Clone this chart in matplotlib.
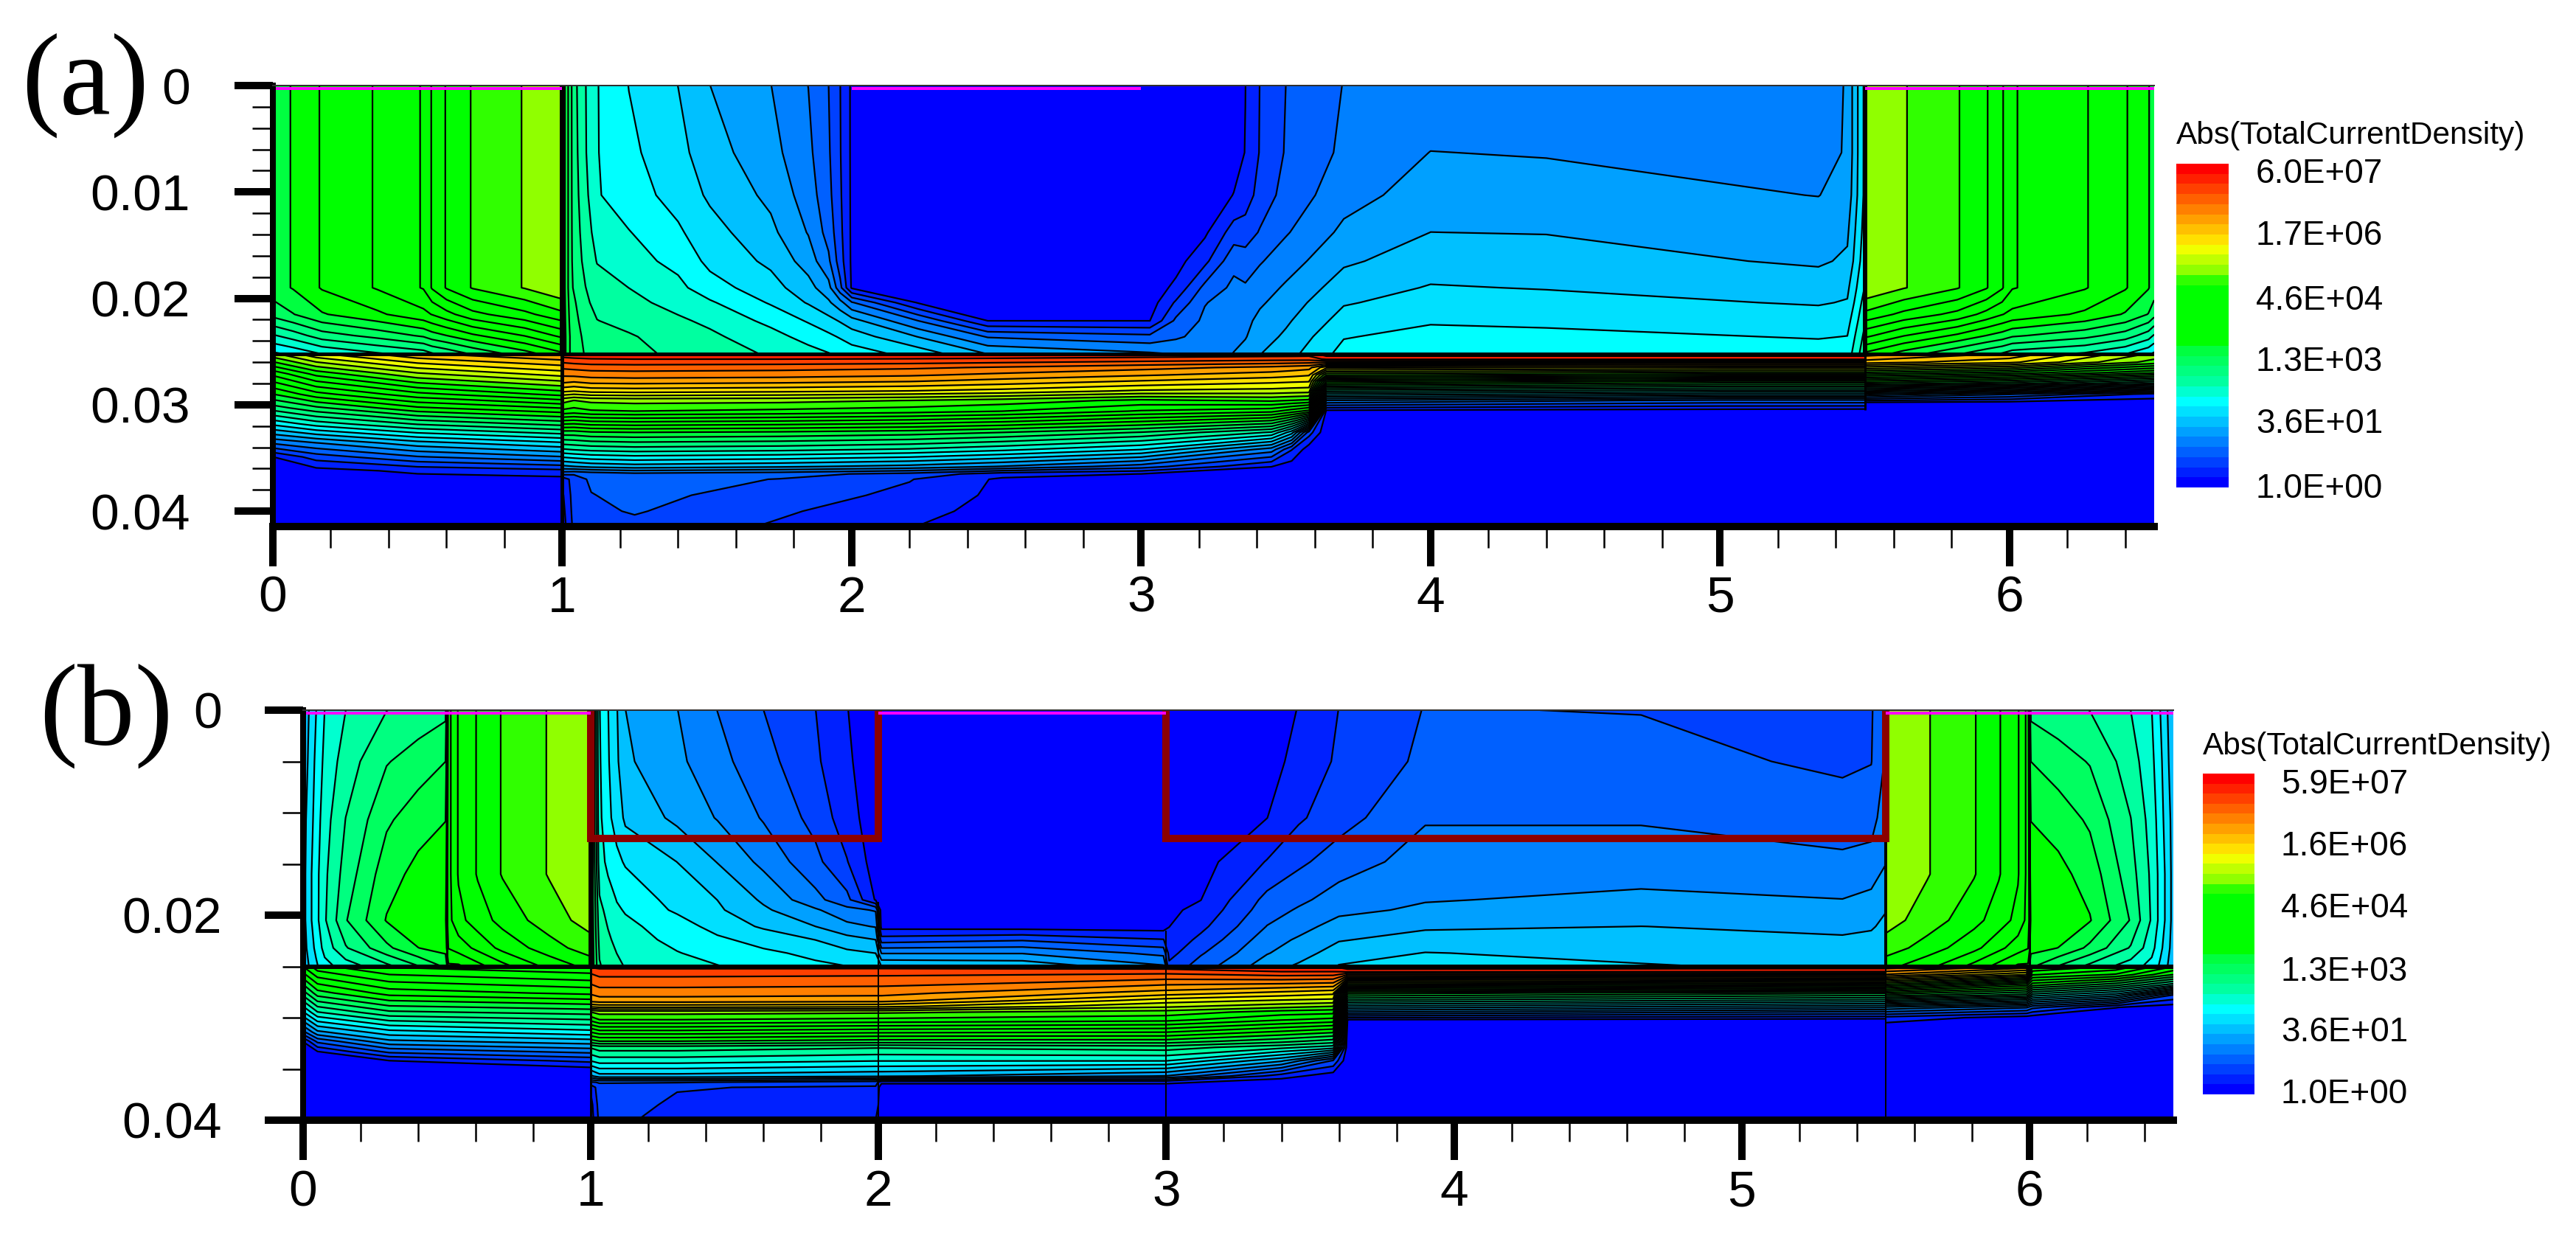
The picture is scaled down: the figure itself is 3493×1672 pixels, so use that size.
import numpy as np
import matplotlib
matplotlib.use("Agg")
import matplotlib.pyplot as plt
from matplotlib.colors import ListedColormap, BoundaryNorm

W, H = 3493, 1672
plt.rcParams["font.family"] = ["Liberation Sans", "DejaVu Sans"]

# log10(|J|) bands, bottom to top of the legend
BAND_COLORS = ["#0000ff", "#0020ff", "#0040ff", "#0060ff", "#0080ff", "#00a0ff", "#00c0ff", "#00e0ff",
               "#00ffff", "#00ffd0", "#00ffa0", "#00ff80", "#00ff60", "#00ff40", "#00ff00", "#00ff00",
               "#00ff00", "#00ff00", "#00ff00", "#00ff00", "#30ff00", "#90ff00", "#c0ff00", "#f0ff00",
               "#ffe000", "#ffc000", "#ffa000", "#ff8000", "#ff6000", "#ff4000", "#ff2000", "#ff0000"]
LEVELS = np.linspace(0, 7.78, len(BAND_COLORS) + 1)

LEGEND_TITLE = "Abs(TotalCurrentDensity)"
A_LEGEND = ["6.0E+07", "1.7E+06", "4.6E+04", "1.3E+03", "3.6E+01", "1.0E+00"]
B_LEGEND = ["5.9E+07", "1.6E+06", "4.6E+04", "1.3E+03", "3.6E+01", "1.0E+00"]
X_TICKS = [0, 1, 2, 3, 4, 5, 6]
A_Y_TICKS = [0, 0.01, 0.02, 0.03, 0.04]
A_Y_LABELS = ["0", "0.01", "0.02", "0.03", "0.04"]
B_Y_TICKS = [0, 0.02, 0.04]
B_Y_LABELS = ["0", "0.02", "0.04"]

# panel (a), tables hold one list per x node
A_TL_X = [0, 0.07, 0.17, 0.36, 0.52, 0.55, 0.60, 0.69, 0.87, 1.0]
A_TL_Y = [0, 0.019, 0.0215, 0.0235, 0.0252]
A_TL_VAL = [[3.30, 3.30, 3.00, 2.40, 1.90],
            [3.42, 3.42, 3.15, 2.55, 2.00],
            [3.67, 3.67, 3.38, 2.80, 2.20],
            [3.91, 3.91, 3.60, 3.00, 2.40],
            [4.15, 4.15, 3.82, 3.20, 2.55],
            [4.40, 4.40, 3.90, 3.30, 2.65],
            [4.64, 4.64, 4.05, 3.40, 2.75],
            [4.88, 4.88, 4.30, 3.60, 2.95],
            [5.12, 5.12, 4.55, 3.90, 3.30],
            [5.33, 5.33, 4.80, 4.20, 3.60]]
A_TR_X = [5.5, 5.635, 5.82, 5.92, 5.975, 6.01, 6.26, 6.40, 6.48, 6.5]
A_TR_VAL = A_TL_VAL[::-1]

A_TM_X = [1.0, 1.03, 1.05, 1.08, 1.12, 1.23, 1.40, 1.51, 1.72, 1.85, 1.92, 1.96, 2.0, 2.23, 2.47, 3.03,
          3.12, 3.22, 3.32, 3.36, 3.41, 3.50, 3.70, 4.0, 4.4, 5.34, 5.44, 5.5]
A_TM_Y = [0, 0.0063, 0.0103, 0.0138, 0.0165, 0.019, 0.0204, 0.0221, 0.0236, 0.0252]
A_TM_VAL = [[3.60, 3.60, 3.60, 3.60, 3.60, 3.60, 3.60, 3.60, 3.60, 3.60],
            [2.95, 2.95, 2.95, 2.95, 2.95, 2.95, 3.00, 3.05, 3.10, 3.10],
            [2.68, 2.70, 2.72, 2.75, 2.78, 2.85, 2.90, 2.95, 3.00, 3.00],
            [2.44, 2.45, 2.50, 2.55, 2.60, 2.68, 2.72, 2.80, 2.85, 2.90],
            [2.20, 2.20, 2.21, 2.33, 2.42, 2.53, 2.60, 2.68, 2.75, 2.80],
            [1.94, 2.00, 2.05, 2.20, 2.28, 2.43, 2.50, 2.60, 2.70, 2.75],
            [1.70, 1.78, 1.86, 1.98, 2.12, 2.25, 2.35, 2.47, 2.56, 2.62],
            [1.46, 1.56, 1.66, 1.80, 1.88, 2.05, 2.22, 2.38, 2.48, 2.56],
            [1.22, 1.30, 1.40, 1.52, 1.65, 1.80, 1.92, 2.12, 2.28, 2.40],
            [0.97, 1.03, 1.10, 1.20, 1.35, 1.55, 1.68, 1.92, 2.10, 2.28],
            [0.73, 0.76, 0.80, 0.88, 1.02, 1.30, 1.50, 1.78, 2.00, 2.20],
            [0.49, 0.50, 0.52, 0.55, 0.60, 0.80, 1.30, 1.68, 1.92, 2.14],
            [0.20, 0.20, 0.20, 0.20, 0.20, 0.21, 1.00, 1.55, 1.84, 2.06],
            [0.10, 0.10, 0.10, 0.10, 0.10, 0.10, 0.22, 0.97, 1.45, 1.85],
            [0.10, 0.10, 0.10, 0.10, 0.10, 0.10, 0.12, 0.24, 0.95, 1.45],
            [0.10, 0.10, 0.10, 0.10, 0.10, 0.10, 0.12, 0.24, 0.80, 1.25],
            [0.08, 0.08, 0.08, 0.10, 0.15, 0.30, 0.52, 0.78, 0.93, 1.20],
            [0.08, 0.08, 0.10, 0.20, 0.42, 0.80, 0.96, 1.02, 1.07, 1.13],
            [0.10, 0.15, 0.25, 0.60, 0.90, 1.03, 1.08, 1.13, 1.18, 1.22],
            [0.24, 0.25, 0.36, 0.60, 0.85, 1.00, 1.08, 1.15, 1.20, 1.30],
            [0.49, 0.50, 0.58, 0.75, 0.95, 1.10, 1.18, 1.28, 1.35, 1.45],
            [0.73, 0.75, 0.82, 0.95, 1.10, 1.25, 1.33, 1.42, 1.50, 1.60],
            [0.98, 1.02, 1.12, 1.27, 1.42, 1.58, 1.68, 1.80, 1.93, 2.03],
            [1.03, 1.22, 1.33, 1.46, 1.58, 1.72, 1.80, 1.92, 2.02, 2.10],
            [1.03, 1.20, 1.32, 1.45, 1.57, 1.69, 1.78, 1.90, 2.00, 2.08],
            [1.00, 1.08, 1.21, 1.36, 1.42, 1.60, 1.68, 1.82, 1.93, 2.04],
            [1.25, 1.25, 1.30, 1.42, 1.50, 1.65, 1.72, 1.85, 1.95, 2.05],
            [2.00, 2.00, 2.00, 2.05, 2.10, 2.20, 2.30, 2.40, 2.50, 2.60]]

A_BL_X = [0, 0.15, 0.5, 1.0]
A_BL_Y = [0.0252, 0.0271, 0.029, 0.0303, 0.0318, 0.0336, 0.0349, 0.0362, 0.0372, 0.0415]
A_BL_VAL = [[5.30, 4.20, 3.40, 2.80, 2.00, 1.00, 0.24, 0.10, 0.05, 0.05],
            [5.80, 4.70, 3.80, 3.10, 2.30, 1.20, 0.60, 0.15, 0.08, 0.05],
            [6.30, 5.30, 4.30, 3.60, 2.70, 1.60, 0.95, 0.30, 0.10, 0.05],
            [6.60, 5.70, 4.70, 3.90, 3.00, 1.90, 1.20, 0.42, 0.10, 0.05]]

A_BM_X = [1.0, 1.04, 1.10, 1.25, 1.75, 2.2, 2.52, 3.0, 3.45, 3.52, 3.58, 3.64, 5.0, 5.5]
A_BM_Y = [0.0252, 0.0257, 0.0265, 0.0272, 0.0278, 0.0287, 0.0296, 0.0306, 0.0326, 0.0342, 0.0358, 0.0365,
          0.0370, 0.0385, 0.0400, 0.0415]
A_BM_VAL = [[7.50, 7.20, 6.85, 6.60, 6.40, 5.90, 5.20, 4.80, 3.30, 2.40, 1.40, 0.80, 0.30, 0.20, 0.15, 0.10],
            [7.50, 7.25, 6.88, 6.62, 6.35, 5.85, 5.10, 4.75, 3.30, 2.45, 1.45, 0.75, 0.62, 0.60, 0.58, 0.55],
            [7.58, 7.28, 6.92, 6.66, 6.42, 5.93, 5.17, 4.83, 3.37, 2.50, 1.52, 0.82, 0.77, 0.72, 0.68, 0.62],
            [7.60, 7.30, 6.93, 6.68, 6.44, 5.95, 5.20, 4.86, 3.40, 2.55, 1.58, 0.90, 0.84, 0.80, 0.75, 0.66],
            [7.60, 7.30, 6.90, 6.66, 6.40, 5.90, 5.18, 4.80, 3.36, 2.50, 1.50, 0.82, 0.72, 0.62, 0.52, 0.45],
            [7.58, 7.28, 6.85, 6.60, 6.33, 5.83, 5.10, 4.72, 3.28, 2.40, 1.38, 0.65, 0.50, 0.42, 0.33, 0.25],
            [7.55, 7.25, 6.78, 6.50, 6.22, 5.75, 5.00, 4.62, 3.16, 2.25, 1.20, 0.35, 0.20, 0.18, 0.15, 0.12],
            [7.50, 7.20, 6.65, 6.35, 6.05, 5.55, 4.80, 4.35, 2.90, 1.95, 0.85, 0.24, 0.10, 0.08, 0.05, 0.05],
            [7.45, 7.15, 6.50, 6.20, 5.90, 5.50, 4.90, 4.20, 2.40, 1.10, 0.25, 0.08, 0.05, 0.05, 0.05, 0.05],
            [7.44, 7.15, 6.45, 6.15, 5.87, 5.47, 4.85, 4.00, 1.80, 0.50, 0.12, 0.05, 0.05, 0.05, 0.05, 0.05],
            [7.42, 7.15, 6.40, 6.10, 5.85, 5.45, 4.80, 3.80, 0.60, 0.10, 0.05, 0.05, 0.05, 0.05, 0.05, 0.05],
            [7.70, 7.35, 5.90, 4.90, 3.90, 2.50, 1.20, 0.15, 0.05, 0.05, 0.05, 0.05, 0.05, 0.05, 0.05, 0.05],
            [7.70, 7.35, 5.80, 4.70, 3.60, 2.30, 0.90, 0.10, 0.05, 0.05, 0.05, 0.05, 0.05, 0.05, 0.05, 0.05],
            [7.70, 7.35, 5.80, 4.70, 3.60, 2.30, 0.90, 0.08, 0.05, 0.05, 0.05, 0.05, 0.05, 0.05, 0.05, 0.05]]

A_BR_X = [5.5, 6.0, 6.5]
A_BR_Y = [0.0252, 0.026, 0.027, 0.028, 0.029, 0.0298, 0.031, 0.0415]
A_BR_VAL = [[6.70, 6.20, 4.80, 3.30, 1.40, 0.20, 0.05, 0.05],
            [6.30, 5.90, 4.50, 3.00, 1.00, 0.15, 0.05, 0.05],
            [5.30, 5.00, 3.90, 2.40, 0.40, 0.10, 0.05, 0.05]]

# panel (b)
B_TL_X = [0, 0.02, 0.045, 0.075, 0.148, 0.29, 0.40, 0.495, 0.505, 0.54, 0.607, 0.693, 0.855, 1.0]
B_TL_Y = [0, 0.005, 0.0107, 0.016, 0.0205, 0.0232, 0.025]
B_TL_VAL = [[1.50, 1.50, 1.60, 1.60, 1.60, 1.55, 1.50],
            [1.70, 1.75, 1.80, 1.85, 1.85, 1.80, 1.70],
            [1.94, 2.00, 2.05, 2.10, 2.10, 2.00, 1.90],
            [2.19, 2.25, 2.33, 2.38, 2.40, 2.28, 2.10],
            [2.43, 2.55, 2.68, 2.78, 2.90, 2.65, 2.30],
            [2.67, 2.90, 3.12, 3.30, 3.42, 3.10, 2.60],
            [2.77, 3.03, 3.30, 3.48, 3.60, 3.40, 2.90],
            [2.85, 3.16, 3.40, 3.52, 3.60, 3.50, 3.20],
            [4.05, 4.05, 4.05, 4.05, 4.05, 3.90, 3.60],
            [4.40, 4.40, 4.40, 4.40, 4.30, 4.00, 3.60],
            [4.64, 4.64, 4.64, 4.64, 4.50, 4.20, 3.80],
            [4.88, 4.88, 4.88, 4.88, 4.70, 4.45, 4.05],
            [5.12, 5.12, 5.12, 5.12, 5.00, 4.75, 4.45],
            [5.33, 5.33, 5.33, 5.33, 5.20, 5.00, 4.70]]
B_TR_X = [5.5, 5.645, 5.807, 5.893, 5.96, 5.995, 6.005, 6.10, 6.21, 6.352, 6.425, 6.455, 6.48, 6.5]
B_TR_VAL = B_TL_VAL[::-1]

B_TM_X = [1.0, 1.03, 1.06, 1.09, 1.12, 1.30, 1.44, 1.60, 1.78, 1.89, 1.99, 2.01, 2.5, 2.99, 3.01, 3.12,
          3.35, 3.46, 3.6, 3.9, 4.65, 5.35, 5.45, 5.5]
B_TM_Y = [0, 0.005, 0.0105, 0.0148, 0.0185, 0.0195, 0.0211, 0.0224, 0.0237, 0.025]
B_TM_VAL = [[3.40, 3.40, 3.40, 3.40, 3.40, 3.40, 3.40, 3.40, 3.40, 3.40],
            [2.20, 2.22, 2.25, 2.30, 2.45, 2.50, 2.55, 2.60, 2.65, 2.70],
            [1.95, 1.97, 2.00, 2.12, 2.30, 2.35, 2.42, 2.47, 2.52, 2.58],
            [1.72, 1.75, 1.85, 2.00, 2.18, 2.22, 2.30, 2.37, 2.43, 2.48],
            [1.46, 1.50, 1.65, 1.92, 2.10, 2.17, 2.24, 2.30, 2.37, 2.42],
            [1.22, 1.27, 1.40, 1.70, 1.86, 1.90, 2.08, 2.12, 2.20, 2.30],
            [0.97, 1.05, 1.20, 1.45, 1.70, 1.74, 1.84, 2.00, 2.10, 2.20],
            [0.73, 0.82, 0.95, 1.15, 1.42, 1.50, 1.67, 1.84, 2.00, 2.10],
            [0.49, 0.53, 0.65, 0.80, 1.05, 1.25, 1.46, 1.70, 1.88, 2.00],
            [0.25, 0.28, 0.35, 0.50, 0.80, 1.05, 1.28, 1.55, 1.76, 1.95],
            [0.10, 0.10, 0.10, 0.12, 0.22, 0.95, 1.20, 1.46, 1.70, 1.94],
            [0.10, 0.10, 0.10, 0.10, 0.10, 0.10, 0.15, 0.60, 1.20, 1.70],
            [0.10, 0.10, 0.10, 0.10, 0.10, 0.10, 0.12, 0.70, 1.20, 1.65],
            [0.10, 0.10, 0.10, 0.10, 0.10, 0.10, 0.12, 0.50, 0.90, 1.25],
            [0.10, 0.10, 0.10, 0.10, 0.15, 0.20, 0.24, 0.30, 0.40, 0.55],
            [0.10, 0.10, 0.12, 0.15, 0.24, 0.30, 0.42, 0.55, 0.70, 0.85],
            [0.15, 0.17, 0.24, 0.50, 0.80, 0.86, 0.98, 1.10, 1.20, 1.35],
            [0.25, 0.30, 0.45, 0.68, 0.92, 1.00, 1.12, 1.25, 1.35, 1.50],
            [0.49, 0.53, 0.63, 0.85, 1.08, 1.15, 1.32, 1.44, 1.58, 1.72],
            [0.74, 0.78, 0.95, 1.08, 1.20, 1.26, 1.42, 1.56, 1.71, 1.80],
            [0.72, 0.82, 0.95, 1.08, 1.27, 1.32, 1.46, 1.55, 1.64, 1.72],
            [0.60, 0.68, 0.85, 1.02, 1.22, 1.30, 1.42, 1.48, 1.60, 1.66],
            [0.70, 0.72, 0.88, 1.05, 1.28, 1.35, 1.44, 1.50, 1.60, 1.66],
            [1.00, 1.00, 1.10, 1.20, 1.40, 1.45, 1.50, 1.55, 1.65, 1.70]]

B_BL_X = [0, 0.05, 0.3, 1.0]
B_BL_Y = [0.025, 0.0276, 0.0295, 0.0314, 0.0323, 0.0333, 0.0342, 0.0349, 0.036, 0.04]
B_BL_VAL = [[3.90, 2.80, 1.90, 0.90, 0.25, 0.10, 0.08, 0.05, 0.05, 0.05],
            [4.30, 3.30, 2.40, 1.40, 0.80, 0.24, 0.10, 0.08, 0.05, 0.05],
            [4.65, 3.75, 2.85, 1.85, 1.40, 0.80, 0.24, 0.10, 0.05, 0.05],
            [4.85, 3.95, 3.00, 2.10, 1.60, 1.05, 0.55, 0.22, 0.05, 0.05]]

B_BM_X = [1.0, 1.03, 1.3, 1.99, 2.01, 3.0, 3.4, 3.58, 3.63, 5.5]
B_BM_Y = [0.025, 0.0255, 0.0276, 0.02835, 0.0289, 0.02946, 0.0302, 0.0323, 0.0329, 0.0342, 0.0357, 0.0363,
          0.0368, 0.0385, 0.04]
B_BM_VAL = [[7.35, 7.10, 6.60, 6.40, 5.90, 5.10, 4.70, 3.30, 2.70, 2.20, 1.40, 0.70, 0.30, 0.15, 0.10],
            [7.40, 7.17, 6.68, 6.44, 5.95, 5.20, 4.86, 3.40, 2.80, 2.30, 1.60, 0.75, 0.65, 0.60, 0.55],
            [7.40, 7.17, 6.68, 6.44, 5.95, 5.20, 4.86, 3.40, 2.80, 2.30, 1.60, 0.75, 0.50, 0.45, 0.42],
            [7.40, 7.15, 6.65, 6.40, 5.90, 5.15, 4.80, 3.30, 2.70, 2.20, 1.50, 0.60, 0.45, 0.38, 0.24],
            [7.40, 7.15, 6.65, 6.40, 5.90, 5.15, 4.80, 3.30, 2.70, 2.20, 1.50, 0.30, 0.10, 0.08, 0.05],
            [7.45, 7.15, 6.20, 5.70, 5.40, 5.00, 4.70, 3.30, 2.80, 2.20, 1.20, 0.30, 0.10, 0.05, 0.05],
            [7.50, 7.30, 6.00, 5.55, 5.20, 4.75, 4.40, 3.00, 2.50, 1.50, 0.35, 0.10, 0.05, 0.05, 0.05],
            [7.55, 7.30, 5.90, 5.50, 5.10, 4.70, 4.30, 2.80, 2.30, 0.70, 0.10, 0.05, 0.05, 0.05, 0.05],
            [7.75, 7.35, 3.50, 2.60, 1.90, 1.20, 0.24, 0.05, 0.05, 0.05, 0.05, 0.05, 0.05, 0.05, 0.05],
            [7.70, 7.30, 3.20, 2.30, 1.60, 0.90, 0.15, 0.05, 0.05, 0.05, 0.05, 0.05, 0.05, 0.05, 0.05]]

B_BR_X = [5.5, 5.99, 6.01, 6.3, 6.5]
B_BR_Y = [0.025, 0.0258, 0.0268, 0.0278, 0.029, 0.03, 0.031, 0.04]
B_BR_VAL = [[7.00, 6.30, 4.80, 3.30, 1.40, 0.40, 0.08, 0.05],
            [6.50, 5.60, 4.00, 2.80, 1.00, 0.12, 0.05, 0.05],
            [4.90, 4.40, 3.50, 2.30, 0.80, 0.10, 0.05, 0.05],
            [4.60, 4.10, 3.00, 1.80, 0.25, 0.08, 0.05, 0.05],
            [3.90, 3.40, 2.30, 0.70, 0.10, 0.05, 0.05, 0.05]]

# contact strips along the top, and the gate outline of (b)
CONTACTS_X = [(0, 1), (2, 3), (5.5, 6.5)]
B_GATE1_X = [1.0, 1.0, 2.0, 2.0]
B_GATE2_X = [3.0, 3.0, 5.5, 5.5]
B_GATE_Y = [0, 0.0125, 0.0125, 0]

CMAP = ListedColormap(BAND_COLORS)
NORM = BoundaryNorm(LEVELS, CMAP.N)


def px(v):
    # pixels to points at dpi 100
    return v * 72 / 100


def add_axes_px(fig, left, top, right, bottom):
    return fig.add_axes([left / W, 1 - bottom / H, (right - left) / W, (bottom - top) / H])


def draw_block(ax, xs, ys, table):
    z = np.array(table).T
    ax.contourf(xs, ys, z, levels=LEVELS, cmap=CMAP, norm=NORM)
    ax.contour(xs, ys, z, levels=LEVELS[1:-1], colors="black", linewidths=px(2.2))


def seam(ax, x, y0, y1, width):
    ax.plot([x, x], [y0, y1], color="black", lw=px(width), solid_capstyle="butt", zorder=5)


def style_axes(ax, ymax, yticks, ylabels, yminor, ypad):
    ax.set_xlim(0, 6.5)
    ax.set_ylim(ymax, 0)
    ax.set_xticks(X_TICKS)
    ax.set_xticks(np.arange(0, 6.5, 0.2), minor=True)
    ax.set_yticks(yticks)
    ax.set_yticklabels(ylabels)
    ax.set_yticks(yminor, minor=True)
    ax.tick_params(axis="x", which="major", length=px(54), width=px(10), labelsize=50, pad=px(12))
    ax.tick_params(axis="x", which="minor", length=px(29), width=px(2.5))
    ax.tick_params(axis="y", which="major", length=px(52), width=px(10), labelsize=50, pad=px(ypad))
    ax.tick_params(axis="y", which="minor", length=px(28), width=px(2.5))
    ax.spines["right"].set_visible(False)
    ax.spines["top"].set_linewidth(px(2))
    ax.spines["top"].set_color("#303030")
    ax.spines["left"].set_linewidth(px(8))
    ax.spines["bottom"].set_linewidth(px(10))
    for s in ax.spines.values():
        s.set_zorder(8)


def draw_contacts(ax, y):
    for x0, x1 in CONTACTS_X:
        ax.plot([x0, x1], [y, y], color="#ff00ff", lw=px(4), solid_capstyle="butt", zorder=7)


def draw_legend(fig, left, top, right, bottom, title_y, label_x, label_ys, labels):
    cax = add_axes_px(fig, left, top, right, bottom)
    cax.pcolormesh([0, 1], LEVELS, np.arange(len(BAND_COLORS)).reshape(-1, 1), cmap=CMAP)
    cax.axis("off")
    fig.text(left / W, 1 - title_y / H, LEGEND_TITLE, fontsize=30.5, ha="left", va="center")
    for yy, lab in zip(label_ys, labels):
        fig.text(label_x / W, 1 - yy / H, lab, fontsize=33, ha="left", va="center")


fig = plt.figure(figsize=(W / 100, H / 100), dpi=100)

# ---- panel (a)
A_YMAX = (714 - 116) / 14430
ax = add_axes_px(fig, 370, 116, 2921, 714)
draw_block(ax, A_TL_X, A_TL_Y, A_TL_VAL)
draw_block(ax, A_TM_X, A_TM_Y, A_TM_VAL)
draw_block(ax, A_TR_X, A_TL_Y, A_TR_VAL)
draw_block(ax, A_BL_X, A_BL_Y, A_BL_VAL)
draw_block(ax, A_BM_X, A_BM_Y, A_BM_VAL)
draw_block(ax, A_BR_X, A_BR_Y, A_BR_VAL)
ax.plot([0, 6.5], [0.0252, 0.0252], color="black", lw=px(5), solid_capstyle="butt", zorder=5)
seam(ax, 1, 0, 0.0252, 7)
seam(ax, 1, 0.0252, A_YMAX, 5)
seam(ax, 5.5, 0, 0.0252, 6)
seam(ax, 5.5, 0.0252, 0.0305, 3)
draw_contacts(ax, 0.0003)
style_axes(ax, A_YMAX, A_Y_TICKS, A_Y_LABELS, np.arange(0, 0.0411, 0.002), 60)
draw_legend(fig, 2951, 222, 3022, 661, 184, 3059, [236, 320, 408, 491, 575, 663], A_LEGEND)
fig.text(29 / W, 1 - 117 / H, "(a)", family="Liberation Serif", fontsize=112, ha="left", va="center")

# ---- panel (b)
ax = add_axes_px(fig, 411, 963, 2947, 1519)
draw_block(ax, B_TL_X, B_TL_Y, B_TL_VAL)
draw_block(ax, B_TM_X, B_TM_Y, B_TM_VAL)
draw_block(ax, B_TR_X, B_TL_Y, B_TR_VAL)
draw_block(ax, B_BL_X, B_BL_Y, B_BL_VAL)
draw_block(ax, B_BM_X, B_BM_Y, B_BM_VAL)
draw_block(ax, B_BR_X, B_BR_Y, B_BR_VAL)
ax.plot([0, 6.5], [0.025, 0.025], color="black", lw=px(6), solid_capstyle="butt", zorder=5)
seam(ax, 0.5, 0, 0.025, 3)
seam(ax, 6.0, 0, 0.025, 3)
seam(ax, 1, 0.0125, 0.025, 7)
seam(ax, 1, 0.025, 0.04, 3)
seam(ax, 2, 0.0187, 0.04, 2)
seam(ax, 3, 0.0215, 0.04, 2)
seam(ax, 5.5, 0.0125, 0.025, 4)
seam(ax, 5.5, 0.025, 0.04, 2)
draw_contacts(ax, 0.0003)
ax.plot(B_GATE1_X, B_GATE_Y, color="#8b0000", lw=px(10), solid_joinstyle="miter", zorder=6)
ax.plot(B_GATE2_X, B_GATE_Y, color="#8b0000", lw=px(10), solid_joinstyle="miter", zorder=6)
style_axes(ax, 0.04, B_Y_TICKS, B_Y_LABELS, np.arange(0, 0.0401, 0.005), 58)
draw_legend(fig, 2987, 1049, 3057, 1484, 1012, 3093, [1064, 1148, 1232, 1318, 1400, 1484], B_LEGEND)
fig.text(53 / W, 1 - 972 / H, "(b)", family="Liberation Serif", fontsize=112, ha="left", va="center")

fig.savefig("out.png", dpi=100)
